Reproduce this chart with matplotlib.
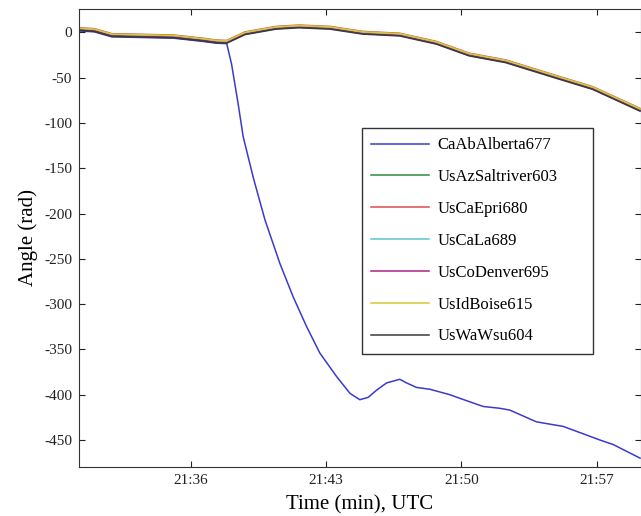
import matplotlib
matplotlib.use("Agg")
import matplotlib.pyplot as plt

plt.rcParams['font.family'] = ['Liberation Serif', 'DejaVu Serif']
plt.rcParams['axes.unicode_minus'] = False

# time in minutes after 21:00 UTC
t_group = [30.25, 31.0, 31.9, 35.1, 36.6, 37.3, 37.85, 38.8, 40.4, 41.6,
           43.2, 44.9, 46.8, 48.7, 50.4, 52.3, 54.8, 56.8, 59.25]

t_alberta = [30.25, 31.0, 31.9, 35.1, 36.6, 37.3, 37.85, 38.1, 38.45, 38.7,
             39.22, 39.83, 40.6, 41.29, 41.99, 42.67, 43.54, 44.23, 44.74, 45.17,
             45.61, 46.13, 46.81, 47.16, 47.68, 48.37, 49.4, 49.92, 51.13, 51.99,
             52.51, 53.89, 55.27, 55.78, 57.17, 57.86, 59.25]
alberta = [1.5, 0.5, -5, -6.5, -10, -12, -12.5, -35, -80, -115,
           -160, -207, -255, -292, -325, -354, -380, -398.5, -405.5, -403,
           -395, -387, -383, -387, -392, -394, -400, -404, -413, -415,
           -417, -430, -435, -439, -450, -455, -470]

saltriver = [3.5, 2.5, -3, -4.5, -8, -10, -10.5, -1, 5, 6.5,
             5, -0.5, -2.5, -11.5, -24.5, -32, -48.5, -61.5, -85.5]
epri = [5, 4, -1.5, -3, -6.5, -8.5, -9, 0.5, 6.5, 8,
        6.5, 1, -1, -10, -23, -30.5, -47, -60, -84]
la = [4, 3, -2.5, -4, -7.5, -9.5, -10, -0.5, 5.5, 7,
      5.5, 0, -2, -11, -24, -31.5, -48, -61, -85]
denver = [2.5, 1.5, -4, -5.5, -9, -11, -11.5, -2, 4, 5.5,
          4, -1.5, -3.5, -12.5, -25.5, -33, -49.5, -62.5, -86.5]
boise = [4.5, 3.5, -2, -3.5, -7, -9, -9.5, 0, 6, 7.5,
         6, 0.5, -1.5, -10.5, -23.5, -31, -47.5, -60.5, -84.5]
wsu = [2, 1, -4.5, -6, -9.5, -11.5, -12, -2.5, 3.5, 5,
       3.5, -2, -4, -13, -26, -33.5, -50, -63, -87]

tick_pos = [36, 43, 50, 57]
tick_labels = ["21:36", "21:43", "21:50", "21:57"]

fig = plt.figure(figsize=(6.41, 5.16), dpi=100)
ax = fig.add_axes([0.1232, 0.0955, 0.8768, 0.887])

ax.plot(t_alberta, alberta, color="#3a3ad0", lw=1.1, label="CaAbAlberta677")
ax.plot(t_group, saltriver, color="#2e8a3a", lw=1.1, label="UsAzSaltriver603")
ax.plot(t_group, epri, color="#e04a4a", lw=1.1, label="UsCaEpri680")
ax.plot(t_group, la, color="#5cc4d0", lw=1.1, label="UsCaLa689")
ax.plot(t_group, denver, color="#b0208c", lw=1.1, label="UsCoDenver695")
ax.plot(t_group, boise, color="#d8c830", lw=1.1, label="UsIdBoise615")
ax.plot(t_group, wsu, color="#3a3a3a", lw=1.1, label="UsWaWsu604")

ax.set_xlim(30.2, 59.3)
ax.set_ylim(-479.5, 25.7)
ax.set_xticks(tick_pos)
ax.set_xticklabels(tick_labels)
ax.set_yticks(range(-450, 1, 50))
ax.tick_params(direction="in", top=True, right=True, length=4, labelsize=11,
               pad=5, colors="#222222")
for s in ax.spines.values():
    s.set_color("#333333")

ax.set_xlabel("Time (min), UTC", fontsize=15, labelpad=6)
ax.set_ylabel("Angle (rad)", fontsize=15, labelpad=4)

leg = ax.legend(loc="upper left", bbox_to_anchor=(0.5643, 0.3114, 0.3604, 0.44),
                bbox_transform=fig.transFigure, borderaxespad=0, mode="expand",
                fontsize=12, fancybox=False, framealpha=1,
                edgecolor="#333333", handlelength=3.5, handletextpad=0.5,
                labelspacing=0.95, borderpad=0.55)
leg.get_frame().set_linewidth(1.0)

fig.savefig("out.png", dpi=100)
